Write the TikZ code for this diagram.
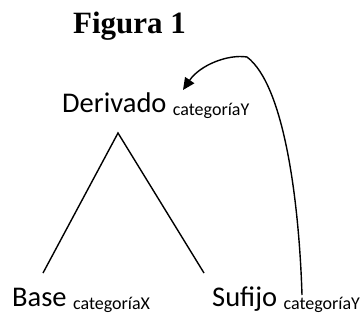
\documentclass[tikz,border=0pt]{standalone}
\usepackage{fontspec}
\setmainfont{Carlito}
\newfontfamily\titlefont{Liberation Serif}
\usetikzlibrary{arrows.meta}

\newcommand{\catsub}[1]{\raisebox{-3pt}{\fontsize{18}{20}\selectfont #1}}

\tikzset{
    word/.style={anchor=base west, inner sep=0pt, font=\fontsize{28.5}{31}\selectfont},
    branch/.style={line width=1.4pt},
}

\begin{document}
\begin{tikzpicture}[x=1pt, y=-1pt]
        \useasboundingbox (0,0) rectangle (364,325);

        \node[anchor=base, inner sep=0pt, font=\titlefont\bfseries\fontsize{31}{34}\selectfont] (title) at (129.5,33) {Figura 1};

        \node[word] (der) at (62,112) {Derivado \catsub{categoríaY}};
        \node[word] (base) at (12,306) {Base \catsub{categoríaX}};
        \node[word] (suf) at (212,306) {Sufijo \catsub{categoríaY}};

        % tree
        \coordinate (apex) at (118,133);
        \coordinate (leftend) at (43,273);
        \coordinate (rightend) at (204,273);
        \draw[branch] (leftend) -- (apex) -- (rightend);

        % movement of the suffix category
        \coordinate (tail) at (302,295);
        \coordinate (peak) at (247,57);
        \coordinate (tip) at (183,90);
        \draw[branch, -{Triangle[length=12pt, width=11pt]}]
            (tail) .. controls (299,200) and (284,85) .. (peak)
                   .. controls (228,54) and (200,65) .. (tip);
    \end{tikzpicture}
\end{document}
